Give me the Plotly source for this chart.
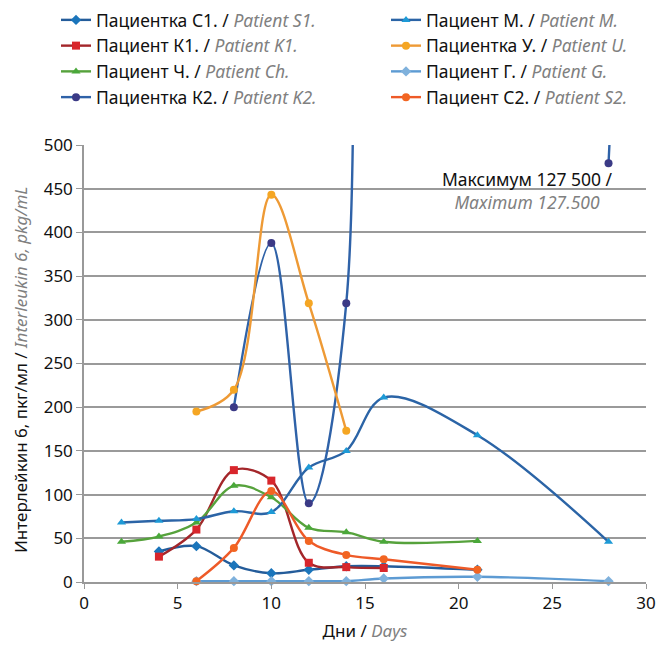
import plotly.graph_objects as go

# ---- data ----
days_s1 = [4, 6, 8, 10, 12, 14, 16, 21]
vals_s1 = [35, 41, 19, 10, 14, 18, 18, 14]

days_k1 = [4, 6, 8, 10, 12, 14, 16]
vals_k1 = [29, 60, 128, 116, 22, 17, 16]

days_ch = [2, 4, 6, 8, 10, 12, 14, 16, 21]
vals_ch = [46, 52, 68, 110, 97, 62, 57, 46, 47]

days_k2 = [8, 10, 12, 14, 16, 28]
vals_k2 = [200, 388, 90, 319, 127500, 479]

days_m = [2, 4, 6, 8, 10, 12, 14, 16, 21, 28]
vals_m = [68, 70, 72, 81, 80, 131, 150, 211, 168, 46]

days_u = [6, 8, 10, 12, 14]
vals_u = [195, 220, 443, 319, 173]

days_g = [6, 8, 10, 12, 14, 16, 21, 28]
vals_g = [1, 1, 1, 1, 1, 4, 6, 1]

days_s2 = [6, 8, 10, 12, 14, 16, 21]
vals_s2 = [1, 39, 104, 47, 31, 26, 14]

GRAY = "#808080"
FONT = "Noto Sans, Open Sans, sans-serif"


def nm(ru, en):
    return f"{ru} / <span style='color:{GRAY}'><i>{en}</i></span>"


series = [
    # name_ru, name_en, days, vals, line color, marker color, symbol, legend
    ("Пациентка С1.", "Patient S1.", days_s1, vals_s1, "#245c9a", "#1b75bb", "diamond", "legend"),
    ("Пациент К1.", "Patient K1.", days_k1, vals_k1, "#a3262a", "#d8262c", "square", "legend"),
    ("Пациент Ч.", "Patient Ch.", days_ch, vals_ch, "#56a23c", "#4aa83a", "triangle-up", "legend"),
    ("Пациентка К2.", "Patient K2.", days_k2, vals_k2, "#2f62a8", "#3b3a86", "circle", "legend"),
    ("Пациент М.", "Patient M.", days_m, vals_m, "#2b64a6", "#1e9ad6", "triangle-up", "legend2"),
    ("Пациентка У.", "Patient U.", days_u, vals_u, "#ee9a35", "#f5a623", "circle", "legend2"),
    ("Пациент Г.", "Patient G.", days_g, vals_g, "#5d9bd3", "#7fb1dc", "diamond", "legend2"),
    ("Пациент С2.", "Patient S2.", days_s2, vals_s2, "#ee5a28", "#f26522", "circle", "legend2"),
]

fig = go.Figure()
for ru, en, dx, vy, lc, mc, sym, lg in series:
    fig.add_trace(go.Scatter(
        x=dx, y=vy, name=nm(ru, en), mode="lines+markers",
        line=dict(color=lc, width=2.4, shape="spline", smoothing=1.0),
        marker=dict(color=mc, symbol=sym, size=8, line=dict(width=0)),
        legend=lg,
        cliponaxis=(ru == "Пациентка К2."),
    ))

fig.add_annotation(
    x=23.65, y=448, xref="x", yref="y",
    text=f"Максимум 127 500 /<br><span style='color:{GRAY}'><i>Maximum 127.500</i></span>",
    showarrow=False, align="center",
    font=dict(family=FONT, size=17.5, color="#111"),
)

# y-axis title
fig.add_annotation(
    x=-0.114, y=0.485, xref="paper", yref="paper",
    xanchor="center", yanchor="middle", textangle=-90, showarrow=False,
    text=f"Интерлейкин 6, пкг/мл / <span style='color:{GRAY}'><i>Interleukin 6, pkg/mL</i></span>",
    font=dict(family=FONT, size=17, color="#111"),
)

legend_common = dict(
    bgcolor="rgba(0,0,0,0)", borderwidth=0,
    font=dict(family=FONT, size=17.5, color="#111"),
    xanchor="left", yanchor="top", tracegroupgap=0, itemwidth=30,
    orientation="v", xref="container", yref="container",
)

fig.update_layout(
    width=657, height=646,
    margin=dict(l=84, r=11, t=145, b=64, autoexpand=False),
    paper_bgcolor="white", plot_bgcolor="white",
    font=dict(family=FONT, size=16, color="#111"),
    legend=dict(x=56 / 657, y=1 - 2 / 646, **legend_common),
    legend2=dict(x=386 / 657, y=1 - 2 / 646, **legend_common),
    xaxis=dict(
        range=[0, 30], dtick=5, tick0=0,
        showgrid=False, zeroline=False,
        showline=True, linecolor="#999", linewidth=1.5,
        ticks="outside", ticklen=5, tickcolor="#999",
        title=dict(text=f"Дни / <span style='color:{GRAY}'><i>Days</i></span>",
                   font=dict(size=17), standoff=12),
        tickfont=dict(size=17),
    ),
    yaxis=dict(
        range=[0, 500], dtick=50, tick0=0,
        showgrid=True, gridcolor="#9a9a9a", gridwidth=1.8,
        zeroline=False,
        showline=True, linecolor="#999", linewidth=1.5,
        ticks="outside", ticklen=6, tickcolor="#999",
        tickfont=dict(size=17),
    ),
)

fig.write_html("out.html")
